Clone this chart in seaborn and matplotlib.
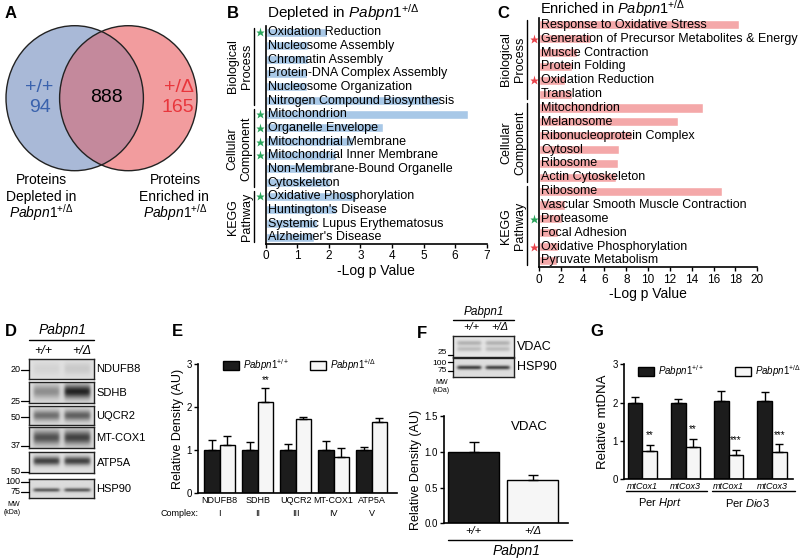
import numpy as np
import pandas as pd
import matplotlib
matplotlib.use('Agg')
import matplotlib.pyplot as plt
import seaborn as sns
from matplotlib.patches import Ellipse, Rectangle

sns.set_theme(style='ticks')
plt.rcParams['font.family'] = ['Liberation Sans', 'DejaVu Sans']
plt.rcParams['mathtext.fontset'] = 'custom'
plt.rcParams['mathtext.rm'] = 'Liberation Sans'
plt.rcParams['mathtext.it'] = 'Liberation Sans:italic'
plt.rcParams['mathtext.bf'] = 'Liberation Sans:bold'
for k in ['text.color', 'axes.labelcolor', 'xtick.color', 'ytick.color', 'axes.edgecolor']:
    plt.rcParams[k] = 'black'

# ---------------- data ----------------
venn_wt_only = 94
venn_shared = 888
venn_mut_only = 165

group_names = ['Biological\nProcess', 'Cellular\nComponent', 'KEGG\nPathway']

dep_terms = ['Oxidation Reduction', 'Nucleosome Assembly', 'Chromatin Assembly',
             'Protein-DNA Complex Assembly', 'Nucleosome Organization',
             'Nitrogen Compound Biosynthesis', 'Mitochondrion', 'Organelle Envelope',
             'Mitochondrial Membrane', 'Mitochondrial Inner Membrane',
             'Non-Membrane-Bound Organelle', 'Cytoskeleton', 'Oxidative Phosphorylation',
             "Huntington's Disease", 'Systemic Lupus Erythematosus', "Alzheimer's Disease"]
dep_logp = [1.93, 1.33, 1.33, 1.3, 1.3, 5.52, 6.42, 3.7, 2.78, 2.23, 2.14, 2.04,
            2.86, 2.23, 1.64, 1.53]
dep_star = ['g', '', '', '', '', '', 'g', 'g', 'g', 'g', '', '', 'g', '', '', '']
dep_sizes = [6, 6, 4]

enr_terms = ['Response to Oxidative Stress', 'Generation of Precursor Metabolites & Energy',
             'Muscle Contraction', 'Protein Folding', 'Oxidation Reduction', 'Translation',
             'Mitochondrion', 'Melanosome', 'Ribonucleoprotein Complex', 'Cytosol',
             'Ribosome', 'Actin Cytoskeleton', 'Ribosome',
             'Vascular Smooth Muscle Contraction', 'Proteasome', 'Focal Adhesion',
             'Oxidative Phosphorylation', 'Pyruvate Metabolism']
enr_logp = [18.3, 4.76, 3.45, 3.0, 2.38, 3.0, 15.0, 12.76, 8.49, 7.35, 7.2, 7.1,
            16.73, 2.38, 2.08, 1.77, 1.77, 1.62]
enr_star = ['', 'r', '', '', 'r', '', '', '', '', '', '', '', '', '', 'g', '', 'r', '']
enr_sizes = [6, 6, 6]

complex_proteins = ['NDUFB8', 'SDHB', 'UQCR2', 'MT-COX1', 'ATP5A']
complex_ids = ['I', 'II', 'III', 'IV', 'V']
e_wt_mean = [1.0, 1.0, 1.0, 1.0, 1.0]
e_wt_sem = [0.24, 0.19, 0.14, 0.22, 0.07]
e_mut_mean = [1.11, 2.11, 1.72, 0.85, 1.66]
e_mut_sem = [0.22, 0.34, 0.06, 0.21, 0.08]
e_mut_sig = ['', '**', '', '', '']

vdac_geno = ['+/+', '+/Δ']
vdac_mean = [1.0, 0.61]
vdac_sem = [0.14, 0.06]

g_genes = ['mtCox1', 'mtCox3', 'mtCox1', 'mtCox3']
g_norm = ['Hprt', 'Hprt', 'Dio3', 'Dio3']
g_wt_mean = [2.0, 2.0, 2.04, 2.03]
g_wt_sem = [0.15, 0.09, 0.27, 0.25]
g_mut_mean = [0.73, 0.84, 0.63, 0.71]
g_mut_sem = [0.16, 0.21, 0.14, 0.2]
g_mut_sig = ['**', '**', '***', '***']

# ---------------- layout helpers ----------------
W, H = 800, 560
fig = plt.figure(figsize=(8, 5.6), dpi=100)
fig.patch.set_facecolor('white')


def box(x0, y0, x1, y1):
    return [x0 / W, 1 - y1 / H, (x1 - x0) / W, (y1 - y0) / H]


ov = fig.add_axes([0, 0, 1, 1])
ov.set_xlim(0, W)
ov.set_ylim(H, 0)
ov.axis('off')
ov.set_zorder(10)

GREEN = '#2aa55c'
RED = '#e8434b'
WT_MUT = {'wt': '#1c1c1c', 'mut': '#f6f6f6'}
LEG_WT = r'$\mathit{Pabpn1}^{+/+}$'
LEG_MUT = r'$\mathit{Pabpn1}^{+/Δ}$'

# panel letters
for letter, (lx, ly) in zip('ABCDEFG', [(11, 14), (233, 14), (503, 14), (11, 332),
                                        (177, 332), (422, 333), (597, 332)]):
    ov.text(lx, ly, letter, fontsize=12, fontweight='bold', ha='center', va='center')

# ---------------- A: Venn ----------------
left = Ellipse((74.7, 98.2), 137.4, 145, facecolor='#a9b9d7', edgecolor='none')
right = Ellipse((128.3, 98.2), 137.4, 145, facecolor='#f29c9e', edgecolor='none')
ov.add_patch(left)
ov.add_patch(right)
mid = Ellipse((128.3, 98.2), 137.4, 145, facecolor='#c4899c', edgecolor='none')
ov.add_patch(mid)
mid.set_clip_path(left)
for c in [(74.7, 98.2), (128.3, 98.2)]:
    ov.add_patch(Ellipse(c, 137.4, 145, facecolor='none', edgecolor='#222222', lw=1))
ov.text(39.5, 87, '+/+', color='#3a62ad', fontsize=14, ha='center', va='center')
ov.text(39.5, 108, str(venn_wt_only), color='#3a62ad', fontsize=14, ha='center', va='center')
ov.text(106, 98, str(venn_shared), color='black', fontsize=14, ha='center', va='center')
ov.text(179, 87, '+/Δ', color='#e8363c', fontsize=14, ha='center', va='center')
ov.text(178, 108, str(venn_mut_only), color='#e8363c', fontsize=14, ha='center', va='center')
ov.text(41, 180, 'Proteins', fontsize=10, ha='center', va='center')
ov.text(41, 197, 'Depleted in', fontsize=10, ha='center', va='center')
ov.text(41, 213, r'$\mathit{Pabpn1}^{+/Δ}$', fontsize=10, ha='center', va='center')
ov.text(175, 180, 'Proteins', fontsize=10, ha='center', va='center')
ov.text(174, 197, 'Enriched in', fontsize=10, ha='center', va='center')
ov.text(175, 213, r'$\mathit{Pabpn1}^{+/Δ}$', fontsize=10, ha='center', va='center')


# ---------------- B, C: GO bars ----------------
def go_panel(rect, terms, logp, stars, sizes, color, xmax, step):
    x0, y0, x1, y1 = rect
    ax = fig.add_axes(box(*rect))
    df = pd.DataFrame({'row': [f'r{i}' for i in range(len(terms))], 'logp': logp})
    sns.barplot(data=df, x='logp', y='row', orient='h', color=color,
                saturation=1, width=0.66, ax=ax)
    n = len(terms)
    ax.set_xlim(0, xmax)
    ax.set_ylim(n - 0.5, -0.5)
    ax.set_xticks(np.arange(0, xmax + 1, step))
    ax.set_yticks([])
    ax.set_ylabel('')
    ax.set_xlabel('-Log p Value', fontsize=10, labelpad=1)
    ax.tick_params(axis='x', length=3, width=1, labelsize=8.5, pad=1.5)
    sns.despine(ax=ax)
    for s in ['left', 'bottom']:
        ax.spines[s].set_linewidth(1.2)
    tr = ax.get_yaxis_transform()
    w = x1 - x0
    for i, t in enumerate(terms):
        ax.text(2 / w, i, t, transform=tr, fontsize=9, va='center', ha='left')
        if stars[i]:
            ax.plot(-5.5 / w, i, marker='*', ms=6.5, mec='none',
                    color=GREEN if stars[i] == 'g' else RED,
                    transform=tr, clip_on=False)
    start = 0
    for name, k in zip(group_names, sizes):
        ax.plot([-12 / w] * 2, [start - 0.35, start + k - 1 + 0.35], transform=tr,
                color='black', lw=1, clip_on=False)
        ax.text(-26 / w, start + (k - 1) / 2, name, transform=tr, rotation=90,
                ha='center', va='center', fontsize=9, linespacing=1.2)
        start += k
    return ax


go_panel((265.7, 25.5, 486.7, 244), dep_terms, dep_logp, dep_star, dep_sizes,
         '#a8c8e7', 7, 1)
ov.text(267, 12.5, r'Depleted in $\mathit{Pabpn1}^{+/Δ}$', fontsize=11, ha='left', va='center')

go_panel((539, 18, 757.3, 267.3), enr_terms, enr_logp, enr_star, enr_sizes,
         '#f4a8a9', 20, 2)
ov.text(540, 9, r'Enriched in $\mathit{Pabpn1}^{+/Δ}$', fontsize=10.5, ha='left', va='center')


# ---------------- western blot helper ----------------
def blot(x0, y0, x1, y1, lane_dark, bands, bg):
    a = fig.add_axes(box(x0, y0, x1, y1))
    yy = np.linspace(0, 1, 48)[:, None]
    xx = np.linspace(0, 1, 140)[None, :]
    img = np.full((48, 140), bg)
    spans = [(0.07, 0.46), (0.54, 0.93)]
    for (lo, hi), d in zip(spans, lane_dark):
        mask = 1 / (1 + np.exp(-(xx - lo) * 70)) / (1 + np.exp((xx - hi) * 70))
        prof = sum(wt * np.exp(-((yy - c) / s) ** 2) for c, s, wt in bands)
        img = img - d * mask * prof
    a.imshow(np.clip(img, 0, 1), cmap='gray', vmin=0, vmax=1, aspect='auto',
             interpolation='bilinear')
    a.set_xticks([])
    a.set_yticks([])
    for s in a.spines.values():
        s.set_linewidth(1)
        s.set_color('#222222')
    return a


# ---------------- D ----------------
d_rows = [
    ('NDUFB8', 359, 379.3, [0.05, 0.09], [(0.5, 0.3, 1)], 0.88),
    ('SDHB', 382.3, 403.3, [0.3, 0.72], [(0.45, 0.32, 1)], 0.86),
    ('UQCR2', 406.3, 425, [0.42, 0.48], [(0.5, 0.28, 1)], 0.86),
    ('MT-COX1', 427.3, 448.3, [0.52, 0.58], [(0.5, 0.32, 1)], 0.84),
    ('ATP5A', 451.7, 473.3, [0.62, 0.62], [(0.45, 0.2, 1)], 0.88),
    ('HSP90', 479, 498.3, [0.5, 0.5], [(0.6, 0.1, 1)], 0.86),
]
for name, ya, yb, dark, bands, bg in d_rows:
    blot(29.3, ya, 94.3, yb, dark, bands, bg)
    ov.text(96.5, (ya + yb) / 2, name, fontsize=8, ha='left', va='center')
ov.text(63, 330, 'Pabpn1', fontsize=10, style='italic', ha='center', va='center')
ov.plot([29, 94], [339.5, 339.5], color='black', lw=1)
ov.text(43.5, 351.5, '+/+', fontsize=9, style='italic', ha='center', va='center')
ov.text(81.5, 351.5, '+/Δ', fontsize=9, style='italic', ha='center', va='center')
for lab, y in [('20', 370), ('25', 401), ('50', 417), ('37', 446), ('50', 472),
               ('100', 481.7), ('75', 492)]:
    ov.plot([21, 29], [y, y], color='black', lw=0.9)
    ov.text(20.5, y, lab, fontsize=6.5, ha='right', va='center')
ov.text(13.5, 504, 'MW', fontsize=5, ha='center', va='center')
ov.text(12, 512, '(kDa)', fontsize=5, ha='center', va='center')


# ---------------- bar helper ----------------
def add_errors(ax, sems):
    for p in ax.patches:
        xc = p.get_x() + p.get_width() / 2
        i = int(round(xc))
        g = 'wt' if xc < i else 'mut'
        ax.errorbar(xc, p.get_height(), yerr=[[0], [sems[g][i]]], color='black',
                    capsize=3, capthick=1, lw=1, zorder=1)


def style_bar_axes(ax):
    sns.despine(ax=ax)
    for s in ['left', 'bottom']:
        ax.spines[s].set_linewidth(1.2)
    ax.tick_params(axis='y', length=3, width=1, labelsize=7, pad=1.5)
    ax.tick_params(axis='x', length=0, pad=2)
    ax.set_xlabel('')


def manual_legend(xb, y, label, color):
    ov.add_patch(Rectangle((xb, y - 4.6), 16, 9.3, facecolor=color, edgecolor='black', lw=1))
    ov.text(xb + 20, y, label, fontsize=7, ha='left', va='center')


# ---------------- E ----------------
e_df = pd.DataFrame({
    'protein': complex_proteins * 2,
    'geno': ['wt'] * 5 + ['mut'] * 5,
    'density': e_wt_mean + e_mut_mean,
})
ax = fig.add_axes(box(198.3, 364, 396.7, 493.3))
sns.barplot(data=e_df, x='protein', y='density', hue='geno', palette=WT_MUT,
            edgecolor='black', linewidth=1, width=0.82, saturation=1,
            errorbar=None, legend=False, ax=ax)
add_errors(ax, {'wt': e_wt_sem, 'mut': e_mut_sem})
ax.set_xlim(-0.56, 4.66)
ax.set_ylim(0, 3)
ax.set_yticks([0, 1, 2, 3])
ax.set_xticks(range(5))
ax.set_xticklabels(complex_proteins, fontsize=6.5)
ax.set_ylabel('Relative Density (AU)', fontsize=9, labelpad=2)
style_bar_axes(ax)
xt = ax.get_xaxis_transform()
ax.text(-1.05, -0.16, 'Complex:', transform=xt, fontsize=6.5, ha='center', va='center')
for i, cid in enumerate(complex_ids):
    ax.text(i, -0.16, cid, transform=xt, fontsize=6.5, ha='center', va='center')
    if e_mut_sig[i]:
        ax.text(i + 0.205, e_mut_mean[i] + e_mut_sem[i] + 0.06, e_mut_sig[i],
                fontsize=7, ha='center', va='bottom')
manual_legend(222.7, 365.5, LEG_WT, WT_MUT['wt'])
manual_legend(310, 365.5, LEG_MUT, WT_MUT['mut'])

# ---------------- F ----------------
blot(453.3, 336, 514, 356.7, [0.2, 0.2], [(0.33, 0.12, 1), (0.62, 0.12, 0.8)], 0.9)
blot(453.3, 358.3, 514, 376.7, [0.62, 0.6], [(0.5, 0.11, 1)], 0.87)
ov.text(516.5, 346.5, 'VDAC', fontsize=9, ha='left', va='center')
ov.text(516.5, 367.5, 'HSP90', fontsize=9, ha='left', va='center')
ov.text(484, 312, 'Pabpn1', fontsize=8.5, style='italic', ha='center', va='center')
ov.plot([453, 514], [319.5, 319.5], color='black', lw=1)
ov.text(471.7, 327, '+/+', fontsize=8, style='italic', ha='center', va='center')
ov.text(500, 327, '+/Δ', fontsize=8, style='italic', ha='center', va='center')
for lab, y, ty in [('25', 352, 355), ('100', 363.5, 361.5), ('75', 371, 371)]:
    ov.plot([447.5, 453], [ty, ty], color='black', lw=0.9)
    ov.text(447, y, lab, fontsize=6, ha='right', va='center')
ov.text(441.5, 383, 'MW', fontsize=5, ha='center', va='center')
ov.text(441.5, 390.5, '(kDa)', fontsize=5, ha='center', va='center')

f_df = pd.DataFrame({'geno': ['wt', 'mut'], 'density': vdac_mean})
ax = fig.add_axes(box(444, 416, 568, 523.3))
sns.barplot(data=f_df, x='geno', y='density', hue='geno', palette=WT_MUT,
            edgecolor='black', linewidth=1, width=0.85, saturation=1,
            errorbar=None, legend=False, ax=ax)
for p, s in zip(ax.patches, vdac_sem):
    xc = p.get_x() + p.get_width() / 2
    ax.errorbar(xc, p.get_height(), yerr=[[0], [s]], color='black', capsize=3.5,
                capthick=1, lw=1, zorder=1)
ax.set_xlim(-0.5, 1.6)
ax.set_ylim(0, 1.5)
ax.set_yticks([0, 0.5, 1.0, 1.5])
ax.set_yticklabels(['0.0', '0.5', '1.0', '1.5'])
ax.set_xticks([0, 1])
ax.set_xticklabels(vdac_geno, fontsize=8, style='italic')
ax.set_ylabel('Relative Density (AU)', fontsize=9, labelpad=2)
style_bar_axes(ax)
ax.text(0.69, 0.9, 'VDAC', transform=ax.transAxes, fontsize=9.5, ha='center', va='center')
ov.plot([448, 572], [539.5, 539.5], color='black', lw=1)
ov.text(516.7, 550.5, 'Pabpn1', fontsize=10, style='italic', ha='center', va='center')

# ---------------- G ----------------
g_cats = [f'{g}_{n}' for g, n in zip(g_genes, g_norm)]
g_df = pd.DataFrame({
    'target': g_cats * 2,
    'geno': ['wt'] * 4 + ['mut'] * 4,
    'mtdna': g_wt_mean + g_mut_mean,
})
ax = fig.add_axes(box(624.3, 364.3, 793, 479))
sns.barplot(data=g_df, x='target', y='mtdna', hue='geno', palette=WT_MUT,
            edgecolor='black', linewidth=1, width=0.68, saturation=1,
            errorbar=None, legend=False, ax=ax)
add_errors(ax, {'wt': g_wt_sem, 'mut': g_mut_sem})
ax.set_xlim(-0.42, 3.49)
ax.set_ylim(0, 3)
ax.set_yticks([0, 1, 2, 3])
ax.set_xticks(range(4))
ax.set_xticklabels(g_genes, fontsize=6.5, style='italic')
ax.set_ylabel('Relative mtDNA', fontsize=9.5, labelpad=3)
style_bar_axes(ax)
for i, sig in enumerate(g_mut_sig):
    ax.text(i + 0.17, g_mut_mean[i] + g_mut_sem[i] + 0.12, sig, fontsize=7,
            ha='center', va='bottom')
ov.plot([625.7, 706.7], [490.5, 490.5], color='black', lw=1)
ov.plot([711.7, 795], [490.5, 490.5], color='black', lw=1)
ov.text(660, 503, r'Per $\mathit{Hprt}$', fontsize=8, ha='center', va='center')
ov.text(747, 503, r'Per $\mathit{Dio3}$', fontsize=8, ha='center', va='center')
manual_legend(637.7, 371.2, LEG_WT, WT_MUT['wt'])
manual_legend(735, 371.2, LEG_MUT, WT_MUT['mut'])

fig.savefig('out.png', dpi=100, facecolor='white')
